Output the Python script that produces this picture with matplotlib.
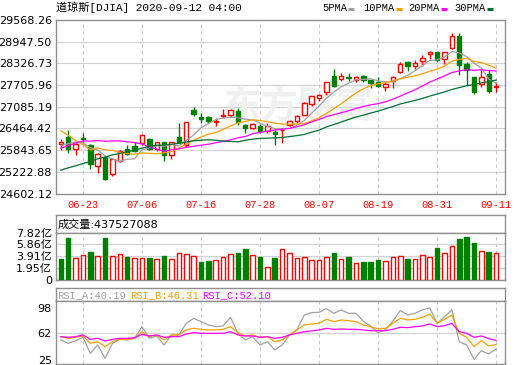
import matplotlib
matplotlib.use('Agg')
import matplotlib.pyplot as plt
from matplotlib.lines import Line2D
import numpy as np

# ---- data ----
dates = ['06-18', '06-19', '06-22', '06-23', '06-24', '06-25', '06-26', '06-29', '06-30',
         '07-01', '07-02', '07-06', '07-07', '07-08', '07-09', '07-10', '07-13', '07-14',
         '07-15', '07-16', '07-17', '07-20', '07-21', '07-22', '07-23', '07-24', '07-27',
         '07-28', '07-29', '07-30', '07-31', '08-03', '08-04', '08-05', '08-06', '08-07',
         '08-10', '08-11', '08-12', '08-13', '08-14', '08-17', '08-18', '08-19', '08-20',
         '08-21', '08-24', '08-25', '08-26', '08-27', '08-28', '08-31', '09-01', '09-02',
         '09-03', '09-04', '09-08', '09-09', '09-10', '09-11']

opens = [26016, 26213, 25880, 26190, 26000, 25380, 25640, 25160, 25520, 25880,
         25950, 26040, 26170, 25870, 26070, 25710, 26220, 26000, 26990, 26780,
         26780, 26660, 26810, 26840, 26960, 26550, 26490, 26520, 26400, 26360,
         26420, 26550, 26680, 26860, 27160, 27330, 27505, 27960, 27884, 27950,
         27856, 27960, 27855, 27800, 27650, 27820, 28090, 28370, 28250, 28400,
         28600, 28650, 28450, 28760, 29100, 28320, 27930, 27750, 28020, 27640]
highs = [26154, 26409, 26060, 26320, 26010, 25770, 25670, 25600, 25860, 26000,
         26080, 26300, 26200, 26080, 26090, 26080, 26620, 26650, 27070, 26900,
         26810, 26770, 27020, 27010, 27050, 26590, 26620, 26580, 26620, 26460,
         26440, 26700, 26850, 27220, 27390, 27453, 27800, 28170, 28040, 28050,
         27961, 27990, 27860, 27925, 27795, 27960, 28364, 28390, 28420, 28580,
         28680, 28660, 28660, 29200, 29199, 28373, 27940, 28150, 28128, 27780]
lows = [25848, 25754, 25700, 26060, 25310, 25200, 24980, 25100, 25490, 25710,
        25780, 25990, 25840, 25830, 25520, 25600, 26060, 25940, 26820, 26620,
        26620, 26520, 26770, 26780, 26550, 26320, 26450, 26340, 26330, 25990,
        26060, 26520, 26630, 26850, 27100, 27236, 27420, 27650, 27820, 27825,
        27780, 27800, 27620, 27640, 27550, 27630, 28043, 28105, 28180, 28240,
        28464, 28372, 28300, 28730, 28003, 27665, 27446, 27655, 27465, 27500]
closes = [26080, 25871, 26025, 26156, 25446, 25746, 25016, 25596, 25813, 25735,
          25827, 26287, 25890, 26067, 25706, 26075, 26086, 26643, 26870, 26735,
          26672, 26681, 26840, 27006, 26652, 26470, 26585, 26379, 26540, 26314,
          26428, 26664, 26828, 27202, 27387, 27433, 27791, 27687, 27977, 27897,
          27931, 27845, 27778, 27693, 27740, 27930, 28308, 28248, 28332, 28492,
          28654, 28430, 28646, 29101, 28293, 28133, 27501, 27940, 27535, 27666]
prev_close = 26120

ma5 = [25972, 26025, 26077, 26050, 25916, 25849, 25678, 25592, 25523, 25581,
       25597, 25852, 25910, 25961, 25955, 26005, 25965, 26115, 26276, 26482,
       26601, 26720, 26760, 26787, 26770, 26730, 26711, 26618, 26525, 26458,
       26449, 26465, 26555, 26687, 26902, 27103, 27328, 27500, 27655, 27757,
       27857, 27867, 27886, 27829, 27797, 27797, 27890, 27984, 28112, 28262,
       28407, 28431, 28511, 28665, 28625, 28521, 28335, 28194, 27880, 27755]
ma10 = [26396, 26272, 26117, 26006, 25849, 25910, 25851, 25835, 25787, 25748,
        25723, 25765, 25751, 25742, 25768, 25801, 25908, 26013, 26119, 26219,
        26303, 26343, 26438, 26531, 26626, 26666, 26715, 26689, 26656, 26614,
        26590, 26588, 26587, 26606, 26680, 26776, 26897, 27027, 27171, 27329,
        27480, 27598, 27693, 27742, 27777, 27827, 27879, 27935, 27970, 28030,
        28102, 28161, 28247, 28388, 28443, 28464, 28383, 28352, 28273, 28190]
ma20 = [25900, 25969, 26047, 26106, 26100, 26118, 26099, 26105, 26109, 26082,
        26059, 26018, 25934, 25874, 25808, 25856, 25880, 25924, 25953, 25984,
        26013, 26054, 26094, 26137, 26197, 26233, 26312, 26351, 26387, 26416,
        26446, 26465, 26512, 26569, 26653, 26721, 26806, 26858, 26914, 26972,
        27035, 27093, 27140, 27174, 27228, 27301, 27388, 27481, 27571, 27680,
        27791, 27879, 27970, 28065, 28110, 28145, 28131, 28143, 28121, 28110]
ma30 = [25271, 25337, 25394, 25458, 25514, 25598, 25644, 25708, 25748, 25799,
        25841, 25901, 25949, 25984, 25990, 26012, 26036, 26075, 26112, 26128,
        26141, 26126, 26102, 26093, 26081, 26126, 26158, 26179, 26187, 26194,
        26205, 26232, 26258, 26293, 26358, 26414, 26507, 26576, 26649, 26721,
        26791, 26843, 26906, 26960, 27028, 27089, 27164, 27217, 27266, 27324,
        27390, 27449, 27509, 27579, 27633, 27689, 27719, 27771, 27805, 27850]

# volume in 亿 (1e8)
volume = [3.47, 6.89, 3.58, 4.13, 4.61, 3.96, 6.89, 3.96, 4.29, 3.80,
          3.64, 3.64, 3.64, 3.47, 3.96, 3.47, 4.45, 4.29, 3.96, 2.99,
          3.15, 3.31, 3.80, 4.29, 4.45, 5.10, 4.13, 3.80, 2.12, 3.64,
          5.05, 4.40, 3.58, 3.75, 3.26, 3.26, 3.75, 4.45, 3.42, 3.80,
          2.77, 2.99, 2.99, 3.31, 3.09, 3.75, 3.91, 3.47, 3.42, 4.07,
          3.75, 5.27, 4.40, 5.54, 6.73, 7.06, 6.08, 4.72, 4.61, 4.375]

rsi_a = [52.7, 48.0, 51.7, 56.4, 34.0, 45.7, 27.0, 48.0, 53.6, 52.7,
         55.0, 71.3, 55.0, 58.3, 45.7, 59.7, 59.7, 76.0, 83.0, 78.3,
         73.7, 71.3, 72.3, 84.4, 62.0, 52.7, 57.3, 45.7, 50.3, 38.6,
         45.7, 59.7, 66.7, 87.7, 91.0, 91.4, 96.5, 90.0, 94.7, 90.0,
         90.0, 79.0, 72.0, 62.9, 66.7, 79.0, 93.8, 87.7, 90.0, 94.7,
         97.5, 76.0, 85.3, 94.7, 50.3, 45.7, 25.6, 37.7, 33.1, 40.19]
rsi_b = [57.3, 55.0, 56.4, 58.3, 48.0, 50.3, 43.3, 50.3, 53.6, 53.6,
         55.0, 64.3, 57.3, 59.7, 52.7, 59.7, 59.7, 66.7, 69.0, 67.6,
         66.7, 66.7, 67.6, 71.3, 62.9, 58.3, 59.7, 56.4, 57.3, 50.3,
         52.7, 59.7, 66.7, 73.7, 75.1, 76.0, 81.6, 78.3, 80.7, 79.7,
         78.3, 73.7, 71.3, 68.1, 69.0, 76.0, 83.0, 80.7, 81.6, 84.4,
         89.1, 76.0, 81.6, 87.7, 62.0, 56.4, 43.3, 51.7, 44.3, 46.31]
rsi_c = [57.3, 56.4, 57.3, 59.7, 53.6, 55.0, 51.3, 53.6, 55.0, 55.0,
         55.9, 60.6, 58.3, 59.7, 56.4, 57.3, 57.3, 61.1, 62.9, 62.0,
         62.0, 62.0, 62.0, 64.3, 59.7, 58.3, 58.3, 56.4, 57.3, 55.0,
         56.4, 59.7, 62.0, 64.3, 65.3, 66.7, 69.0, 67.6, 68.1, 67.6,
         67.6, 66.7, 65.7, 65.7, 65.7, 67.6, 70.4, 69.9, 71.3, 72.3,
         75.1, 71.3, 72.7, 76.0, 64.3, 62.0, 56.4, 58.3, 54.5, 52.10]

price_ticks = [24602.12, 25222.88, 25843.65, 26464.42, 27085.19,
               27705.96, 28326.73, 28947.50, 29568.26]
vol_ticks = [0, 1.95, 3.91, 5.86, 7.82]
vol_labels = ['0', '1.95亿', '3.91亿', '5.86亿', '7.82亿']
rsi_ticks = [25, 62, 98]
date_labels = ['06-23', '07-06', '07-16', '07-28', '08-07', '08-19', '08-31', '09-11']

title = '道琼斯[DJIA] 2020-09-12 04:00'
vol_title = '成交量:437527088'
ma_names = ['5PMA', '10PMA', '20PMA', '30PMA']
rsi_names = ['RSI_A:40.19', 'RSI_B:46.31', 'RSI_C:52.10']

# ---- style ----
RED = '#ff0000'
GREEN = '#008000'
MA_COLORS = ['#a0a0a0', '#f5a000', '#ff00ff', '#006f30']
RSI_COLORS = ['#a0a0a0', '#f5a000', '#ff00ff']
FRAME = '#8f8f8f'
GRID = '#d2d2d2'
MONO = ['Liberation Mono', 'Noto Sans CJK SC']
SANS = ['DejaVu Sans', 'Noto Sans CJK SC']

W, H = 520, 365
fig = plt.figure(figsize=(W / 100, H / 100), dpi=100)


def box(x0, y0, x1, y1):
    return [x0 / W, 1 - y1 / H, (x1 - x0) / W, (y1 - y0) / H]


x = np.arange(len(dates))
tick_idx = [dates.index(d) for d in date_labels]
XLIM = (-0.65, 60.2)


def frame(a):
    for s in a.spines.values():
        s.set_color(FRAME)
        s.set_linewidth(1)
    a.tick_params(length=0, labelsize=8, pad=3)
    a.set_xlim(*XLIM)


def vgrid(a):
    for i in tick_idx:
        a.axvline(i, color='#c8c8c8', lw=0.8, ls=(0, (3, 3)), zorder=0.5)


# ---- main candle panel ----
ax = fig.add_axes(box(56, 20, 505, 193.5))
frame(ax)
ax.set_ylim(price_ticks[0], price_ticks[-1])
ax.set_yticks(price_ticks)
ax.set_yticklabels(['%.2f' % v for v in price_ticks], family='DejaVu Sans')
for v in price_ticks[1:-1]:
    ax.axhline(v, color=GRID, lw=0.9, zorder=0.5)
vgrid(ax)
ax.set_xticks(tick_idx)
ax.set_xticklabels(date_labels, color=RED, family=MONO, fontsize=7.5)
ax.tick_params(axis='x', pad=5)

ax.text(0.54, 0.5, '东方财富', transform=ax.transAxes, ha='center', va='center',
        fontsize=27, fontweight='bold', color='#f0f0f0', family='Noto Sans CJK SC',
        zorder=0.6)

o = np.array(opens, float)
c = np.array(closes, float)
hi = np.array(highs, float)
lo = np.array(lows, float)
up = c >= o
ax.vlines(x, lo, hi, colors=np.where(up, RED, GREEN), lw=1, zorder=2)
bb = np.minimum(o, c)
bh = np.maximum(np.abs(c - o), 12)
ax.bar(x[up], bh[up], 0.6, bottom=bb[up], facecolor='white', edgecolor=RED, lw=1, zorder=3)
ax.bar(x[~up], bh[~up], 0.6, bottom=bb[~up], facecolor=GREEN, edgecolor=GREEN, lw=1, zorder=3)

for series, col in zip([ma5, ma10, ma20, ma30], MA_COLORS):
    ax.plot(x, series, color=col, lw=0.9, zorder=4)

fig.text(56 / W, 1 - 7.5 / H, title, fontsize=8, family=MONO, va='center')
leg_x = [322, 363, 408, 454]
for name, col, lx in zip(ma_names, MA_COLORS, leg_x):
    fig.text(lx / W, 1 - 8 / H, name, fontsize=7.5, family=MONO, va='center')
    mx = lx + 6.2 * len(name) + 1.5
    fig.add_artist(Line2D([mx / W, (mx + 6) / W], [1 - 8.5 / H] * 2, color=col,
                          lw=2.2, solid_capstyle='butt'))

# ---- volume panel ----
axvh = fig.add_axes(box(56, 215, 505, 232.5))
frame(axvh)
axvh.set_xticks([])
axvh.set_yticks([])
axvh.text(0.004, 0.45, vol_title, transform=axvh.transAxes, va='center',
          fontsize=8, family=SANS)

axv = fig.add_axes(box(56, 232.5, 505, 279.5))
frame(axv)
axv.set_ylim(0, 7.82)
axv.set_yticks(vol_ticks)
axv.set_yticklabels(vol_labels, family=SANS)
axv.set_xticks([])
for v in vol_ticks[1:-1]:
    axv.axhline(v, color=GRID, lw=0.9, zorder=0.5)
vgrid(axv)
prev = np.r_[prev_close, c[:-1]]
vup = c >= prev
vol = np.array(volume)
axv.bar(x[vup], vol[vup], 0.62, facecolor='white', edgecolor=RED, lw=1, zorder=3)
axv.bar(x[~vup], vol[~vup], 0.62, facecolor=GREEN, edgecolor=GREEN, lw=1, zorder=3)

# ---- RSI panel ----
axrh = fig.add_axes(box(56, 288, 505, 301))
frame(axrh)
axrh.set_xticks([])
axrh.set_yticks([])
for name, col, tx in zip(rsi_names, RSI_COLORS, [57, 130, 202]):
    fig.text(tx / W, 1 - 295 / H, name, fontsize=7.5, family=MONO, color=col, va='center')

axr = fig.add_axes(box(56, 301, 505, 364))
frame(axr)
axr.set_ylim(19.1, 107.2)
axr.set_yticks(rsi_ticks)
axr.set_yticklabels([str(v) for v in rsi_ticks], family='DejaVu Sans')
axr.set_xticks([])
axr.axhline(62, color=GRID, lw=0.9, zorder=0.5)
vgrid(axr)
for series, col in zip([rsi_a, rsi_b, rsi_c], RSI_COLORS):
    axr.plot(x, series, color=col, lw=0.9, zorder=3)

fig.savefig('out.png', dpi=100)
